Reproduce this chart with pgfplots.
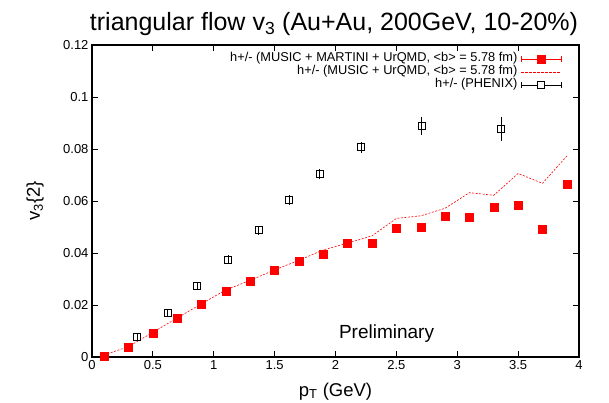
\documentclass[border=0pt]{standalone}
\usepackage{fontspec}
\setmainfont{Liberation Sans}
\usepackage{pgfplots}
\pgfplotsset{compat=1.18}
\begin{document}
\begin{tikzpicture}
\useasboundingbox (-92pt,-45pt) rectangle (517pt,357pt);
\begin{axis}[
  scale only axis, width=487pt, height=312pt,
  xmin=0, xmax=4, ymin=0, ymax=0.12,
  xtick={0,0.5,1,1.5,2,2.5,3,3.5,4}, ytick={0,0.02,0.04,0.06,0.08,0.1,0.12},
  scaled y ticks=false,
  tick align=inside, major tick length=6pt,
  axis line style={line width=1.4pt}, tick style={black, line width=1pt},
  ticklabel style={font=\fontsize{13}{15}\selectfont},
  /pgf/number format/assume math mode=true,
  /pgf/number format/fixed, /pgf/number format/precision=2,
  xlabel={p\textsubscript{T} (GeV)},
  ylabel={v\textsubscript{3}\{2\}},
  label style={font=\fontsize{18.5}{21}\selectfont},
  xlabel style={at={(axis description cs:0.5,-0.125)}, anchor=base},
  ylabel style={at={(axis description cs:-0.107,0.5)}, anchor=base},
  legend style={draw=none, fill=none, at={(0.965,0.975)}, anchor=north east,
    inner sep=0pt, font=\fontsize{12.8}{13}\selectfont, row sep=1pt,
    nodes={inner ysep=0pt, inner xsep=3.5pt, text height=9pt, text depth=3pt}},
  legend cell align=right, legend plot pos=right,
]
\addplot[only marks, mark=square*, mark size=4pt, red,
  legend image code/.code={
    \draw[red, line width=0.7pt] (0pt,0pt) -- (40pt,0pt);
    \draw[red, line width=0.7pt] (0pt,-3pt) -- (0pt,3pt) (40pt,-3pt) -- (40pt,3pt);
    \fill[red] (20pt,0pt) +(-4pt,-4pt) rectangle +(4pt,4pt);}]
coordinates {
(0.1,0.0004) (0.3,0.0037) (0.5,0.0091) (0.7,0.0150) (0.9,0.0205)
(1.1,0.0252) (1.3,0.0290) (1.5,0.0332) (1.7,0.0369) (1.9,0.0397)
(2.1,0.0436) (2.3,0.0436) (2.5,0.0496) (2.7,0.0500) (2.9,0.0543)
(3.1,0.0536) (3.3,0.0578) (3.5,0.0585) (3.7,0.0493) (3.9,0.0665)};
\addlegendentry{h+/- (MUSIC + MARTINI + UrQMD, <b> = 5.78 fm)}
\addplot[red, line width=0.6pt, dash pattern=on 2pt off 1.5pt,
  legend image code/.code={
    \draw[red, line width=0.7pt, dash pattern=on 2.5pt off 1.5pt] (0pt,0pt) -- (40pt,0pt);}]
coordinates {
(0.1,0.0008) (0.3,0.0040) (0.5,0.0095) (0.7,0.0150) (0.9,0.0205)
(1.1,0.0258) (1.3,0.0295) (1.5,0.0335) (1.7,0.0372) (1.9,0.0412)
(2.1,0.0438) (2.3,0.0466) (2.5,0.0533) (2.7,0.0543) (2.9,0.0572)
(3.1,0.0632) (3.3,0.0622) (3.5,0.0706) (3.7,0.0668) (3.9,0.0773)};
\addlegendentry{h+/- (MUSIC + UrQMD, <b> = 5.78 fm)}
\addplot[only marks, black, mark=square, mark size=3.5pt, mark options={line width=0.9pt},
  legend image code/.code={
    \draw[black, line width=0.9pt] (0pt,0pt) -- (40pt,0pt);
    \draw[black, line width=0.9pt] (0pt,-3pt) -- (0pt,3pt) (40pt,-3pt) -- (40pt,3pt);
    \draw[black, line width=0.9pt, fill=white] (20pt,0pt) +(-3.5pt,-3.5pt) rectangle +(3.5pt,3.5pt);},
  error bars/.cd, y dir=both, y explicit,
  error bar style={line width=0.9pt}, error mark options={mark size=2.5pt, line width=0.9pt}]
table[x=x, y=y, y error=e] {
x     y       e
0.37  0.0076  0.0004
0.62  0.0168  0.0005
0.865 0.0273  0.0006
1.12  0.0374  0.0007
1.37  0.0487  0.0008
1.62  0.0605  0.0009
1.87  0.0703  0.0010
2.21  0.0807  0.0011
2.71  0.0890  0.0025
3.36  0.0877  0.0037
};
\addlegendentry{h+/- (PHENIX)}
\node[font=\fontsize{19}{21}\selectfont, anchor=base west] at (axis cs:2.0,0.0073) {Preliminary};
\end{axis}
\node[font=\fontsize{25}{28}\selectfont, anchor=base] at (242pt,326pt) {triangular flow v\textsubscript{3} (Au+Au, 200GeV, 10-20\%)};
\end{tikzpicture}
\end{document}
